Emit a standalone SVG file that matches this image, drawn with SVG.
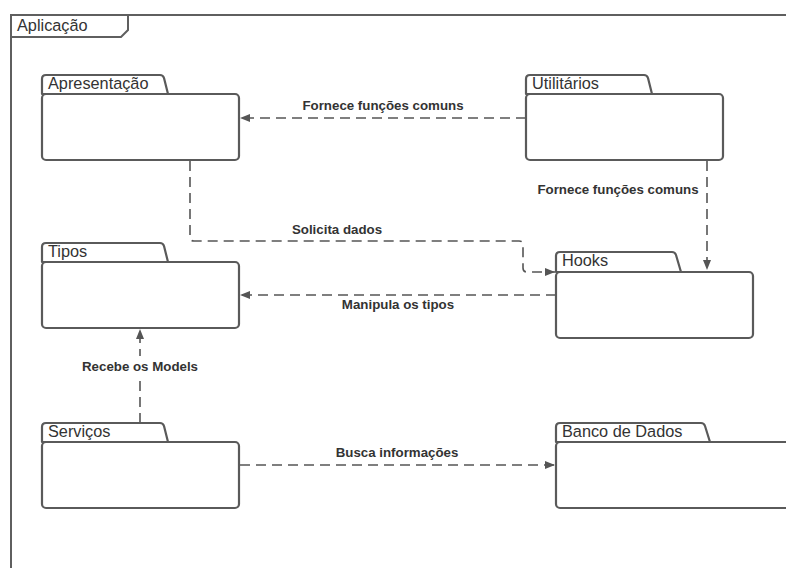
<svg xmlns="http://www.w3.org/2000/svg" width="786" height="568" viewBox="0 0 786 568">
  <defs>
    <marker id="arrow" viewBox="0 0 10 8" refX="10" refY="4" markerWidth="10" markerHeight="8" markerUnits="userSpaceOnUse" orient="auto">
      <path d="M0,0 L10,4 L0,8 Z" fill="#555"/>
    </marker>
    <style>
      .frame { fill: none; stroke: #5f5f5f; stroke-width: 2; }
      .pkg { fill: #fff; stroke: #5a5a5a; stroke-width: 2.2; stroke-linejoin: round; }
      .name { font-family: "Liberation Sans", Arial, sans-serif; font-size: 16.3px; fill: #333; }
      .edge { fill: none; stroke: #555; stroke-width: 1.6; stroke-dasharray: 10 6; }
      .lbl { font-family: "Liberation Sans", Arial, sans-serif; font-size: 13.3px; font-weight: bold; fill: #333; text-anchor: middle; }
    </style>
  </defs>

  <rect width="786" height="568" fill="#fff"/>

  <!-- outer package frame -->
  <g id="aplicacao">
    <rect class="frame" x="11" y="15" width="900" height="700"/>
    <path class="frame" d="M11,37 H121 L128,30 V15"/>
    <text class="name" x="17" y="31">Aplicação</text>
  </g>

  <!-- connectors -->
  <g id="connectors">
    <line class="edge" x1="526" y1="118" x2="240" y2="118" marker-end="url(#arrow)"/>
    <line class="edge" x1="707" y1="161" x2="707" y2="270" marker-end="url(#arrow)"/>
    <path class="edge" d="M190,161 V237 Q190,241 194,241 H519 Q523,241 523,245 V268 Q523,272 527,272 H555" marker-end="url(#arrow)"/>
    <line class="edge" x1="556" y1="295" x2="240" y2="295" marker-end="url(#arrow)"/>
    <line class="edge" x1="140" y1="423" x2="140" y2="329" marker-end="url(#arrow)"/>
    <line class="edge" x1="240" y1="465" x2="555" y2="465" marker-end="url(#arrow)"/>

    <text class="lbl" x="383" y="110">Fornece funções comuns</text>
    <text class="lbl" x="618" y="194">Fornece funções comuns</text>
    <text class="lbl" x="337" y="234">Solicita dados</text>
    <text class="lbl" x="398" y="309">Manipula os tipos</text>
    <rect x="78" y="356" width="124" height="20" fill="#fff"/>
    <text class="lbl" x="140" y="371">Recebe os Models</text>
    <text class="lbl" x="397" y="457">Busca informações</text>
  </g>

  <!-- packages -->
  <g id="apresentacao">
    <path class="pkg" d="M42,94 V79 Q42,75 46,75 H160 Q163,75 164,78 L168,94 Z"/>
    <rect class="pkg" x="42" y="94" width="197" height="66" rx="4"/>
    <text class="name" x="48" y="89">Apresentação</text>
  </g>

  <g id="utilitarios">
    <path class="pkg" d="M526,94 V79 Q526,75 530,75 H644 Q647,75 648,78 L652,94 Z"/>
    <rect class="pkg" x="526" y="94" width="197" height="66" rx="4"/>
    <text class="name" x="532" y="89">Utilitários</text>
  </g>

  <g id="tipos">
    <path class="pkg" d="M42,262 V247 Q42,243 46,243 H160 Q163,243 164,246 L168,262 Z"/>
    <rect class="pkg" x="42" y="262" width="197" height="66" rx="4"/>
    <text class="name" x="48" y="257">Tipos</text>
  </g>

  <g id="hooks">
    <path class="pkg" d="M556,272 V256 Q556,252 560,252 H672 Q675,252 676,255 L681,272 Z"/>
    <rect class="pkg" x="556" y="272" width="197" height="66" rx="4"/>
    <text class="name" x="562" y="266">Hooks</text>
  </g>

  <g id="servicos">
    <path class="pkg" d="M42,442 V427 Q42,423 46,423 H160 Q163,423 164,426 L168,442 Z"/>
    <rect class="pkg" x="42" y="442" width="197" height="66" rx="4"/>
    <text class="name" x="48" y="437">Serviços</text>
  </g>

  <g id="banco-de-dados">
    <path class="pkg" d="M556,442 V427 Q556,423 560,423 H701 Q704,423 705,426 L710,442 Z"/>
    <rect class="pkg" x="556" y="442" width="260" height="66" rx="4"/>
    <text class="name" x="562" y="437">Banco de Dados</text>
  </g>
</svg>
